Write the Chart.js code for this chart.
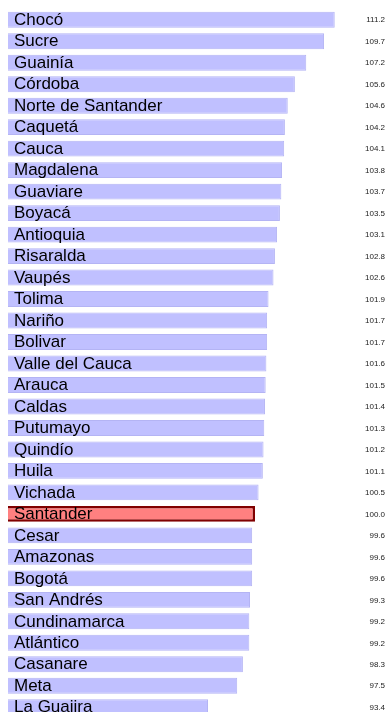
<!DOCTYPE html>
<html>
<head>
<meta charset="utf-8">
<script src="https://cdn.jsdelivr.net/npm/chart.js@4/dist/chart.umd.min.js"></script>
<style>
  html, body { margin: 0; padding: 0; background: #fff; overflow: hidden; }
  canvas { display: block; }
</style>
</head>
<body>
<canvas id="myChart" width="386" height="720"></canvas>
<script>
const departamentos = ["Chocó", "Sucre", "Guainía", "Córdoba", "Norte de Santander", "Caquetá", "Cauca",
  "Magdalena", "Guaviare", "Boyacá", "Antioquia", "Risaralda", "Vaupés", "Tolima", "Nariño", "Bolivar",
  "Valle del Cauca", "Arauca", "Caldas", "Putumayo", "Quindío", "Huila", "Vichada", "Santander", "Cesar",
  "Amazonas", "Bogotá", "San Andrés", "Cundinamarca", "Atlántico", "Casanare", "Meta", "La Guajira"]
const valores = [111.2, 109.7, 107.2, 105.6, 104.6, 104.2, 104.1, 103.8, 103.7, 103.5, 103.1, 102.8, 102.6,
  101.9, 101.7, 101.7, 101.6, 101.5, 101.4, 101.3, 101.2, 101.1, 100.5, 100.0, 99.6, 99.6, 99.6, 99.3,
  99.2, 99.2, 98.3, 97.5, 93.4]
const destacado = "Santander"

const fills = departamentos.map(d => d === destacado ? "#ff8080" : "#c0c0ff")
const borders = departamentos.map(d => d === destacado ? "#800000" : "#b4b4f4")
const widths = departamentos.map(d => d === destacado ? 2.5 : 1)

// labels inside the bars and the values on the right edge
const barLabels = {
  id: "barLabels",
  afterDatasetsDraw(chart) {
    const ctx = chart.ctx
    const meta = chart.getDatasetMeta(0)
    ctx.save()
    ctx.textBaseline = "middle"
    meta.data.forEach((bar, i) => {
      ctx.fillStyle = "#000"
      ctx.textAlign = "left"
      ctx.font = "17px 'Liberation Sans', Arial, sans-serif"
      ctx.fillText(departamentos[i], 14, bar.y + 0.5)
      ctx.fillStyle = "#222"
      ctx.textAlign = "right"
      ctx.font = "8px 'Liberation Sans', Arial, sans-serif"
      ctx.fillText(valores[i].toFixed(1), chart.width - 1, bar.y + 0.5)
    })
    ctx.restore()
  }
}

new Chart("myChart", {
  type: "bar",
  data: {
    labels: departamentos,
    datasets: [{
      data: valores,
      backgroundColor: fills,
      borderColor: borders,
      borderWidth: widths,
      barPercentage: 0.74,
      categoryPercentage: 1
    }]
  },
  options: {
    indexAxis: "y",
    responsive: false,
    animation: false,
    devicePixelRatio: 1,
    layout: { padding: { left: 8, right: 26, top: 9, bottom: 2 } },
    scales: {
      x: { display: false, min: 65.3, max: 114.75 },
      y: { display: false }
    },
    plugins: {
      legend: { display: false },
      tooltip: { enabled: false }
    }
  },
  plugins: [barLabels]
})
</script>
</body>
</html>
